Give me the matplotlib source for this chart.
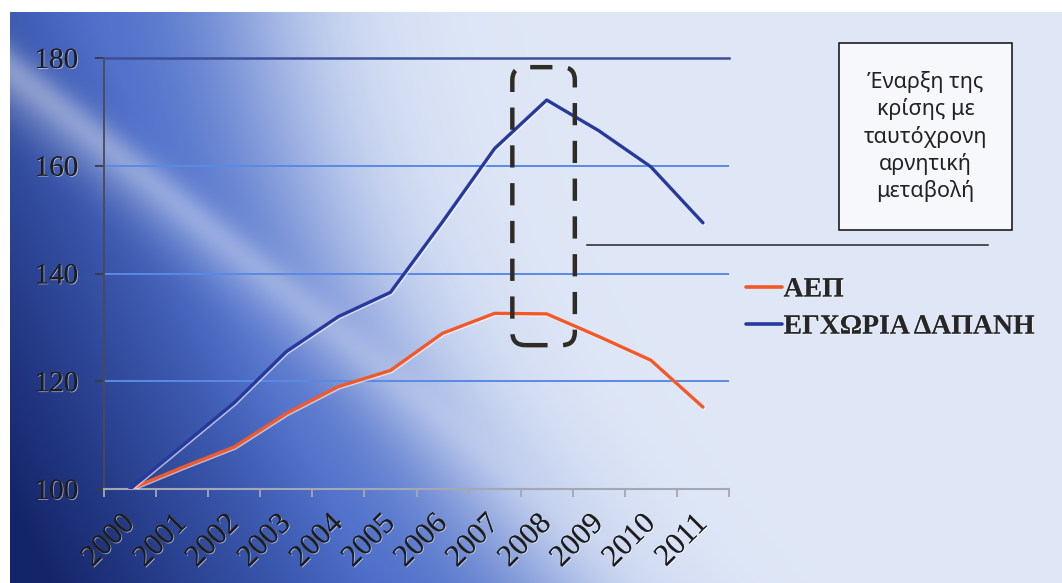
import numpy as np
import matplotlib.pyplot as plt
import matplotlib.patheffects as pe
from matplotlib.patches import FancyBboxPatch, Rectangle
from matplotlib.lines import Line2D

W, H = 1062, 583

years = ['2000', '2001', '2002', '2003', '2004', '2005',
         '2006', '2007', '2008', '2009', '2010', '2011']
aep = [100, 104, 107.8, 114, 119, 122, 128.9, 132.6, 132.5, 128.3, 123.9, 115.2]
dapani = [100, 108, 116, 125.5, 132, 136.5, 149.6, 163.2, 172.2, 166.5, 159.8, 149.4]
yticks = [100, 120, 140, 160, 180]

note = 'Έναρξη της\nκρίσης με\nταυτόχρονη\nαρνητική\nμεταβολή'

c_aep = '#f2592a'
c_dap = '#27399c'

fig = plt.figure(figsize=(W / 100, H / 100), dpi=100, facecolor='white')

# --- slide background: dark navy lower-left fading to pale blue ---
bx0, by0 = 10, 12
px, py = np.meshgrid(np.arange(bx0, W), np.arange(by0, H))
edge = 250 + 0.15 * py + 0.0006 * py ** 2
light = 1 / (1 + np.exp(-(px - edge) / 55))
dark = np.clip(0.9 * (py / H) + 0.8 * (1 - px / 260) - 0.55, 0, 1)
navy = np.array([20, 36, 104]) / 255
mid = np.array([72, 106, 200]) / 255
pale = np.array([224, 232, 247]) / 255
blue = mid * (1 - dark[..., None]) + navy * dark[..., None]
img = blue * (1 - light[..., None]) + pale * light[..., None]
# soft diagonal highlights
for (x0, y0, w, a) in [(0, 60, 18, 0.3), (100, 160, 30, 0.2)]:
    d = ((py - y0) - 0.8 * (px - x0)) / np.sqrt(1 + 0.8 ** 2)
    streak = a * np.exp(-(d / w) ** 2) * (1 - light)
    img = img + (1 - img) * streak[..., None]
img = np.clip(img, 0, 1)

bg = fig.add_axes([bx0 / W, 0, 1 - bx0 / W, 1 - by0 / H])
bg.imshow(img, aspect='auto', interpolation='bilinear')
bg.axis('off')

# --- chart ---
ax = fig.add_axes([104 / W, 94 / H, (729 - 104) / W, (489 - 58) / H])
ax.patch.set_alpha(0)

glow = [pe.SimpleLineShadow(offset=(0.8, -0.8), shadow_color='white', alpha=0.6), pe.Normal()]
x = np.arange(len(years))
l1, = ax.plot(x, aep, color=c_aep, lw=2.4, solid_capstyle='round', zorder=3, path_effects=glow)
l2, = ax.plot(x, dapani, color=c_dap, lw=2.4, solid_capstyle='round', zorder=3, path_effects=glow)

ax.set_xlim(-0.5, len(years) - 0.5)
ax.set_ylim(100, 180)
ax.set_yticks(yticks)
ax.set_xticks(x)
ax.set_xticklabels(years)
ax.set_xticks(np.arange(-0.5, len(years)), minor=True)

ax.grid(axis='y', color='#5a8ae4', lw=1.4)
ax.set_axisbelow(True)

ax.spines['right'].set_visible(False)
ax.spines['top'].set_color('#3c4f98')
ax.spines['top'].set_linewidth(1.8)
ax.spines['left'].set_color('#4a4a55')
ax.spines['left'].set_linewidth(1.3)
ax.spines['bottom'].set_color('#a4a8b4')
ax.spines['bottom'].set_linewidth(1.5)

ax.tick_params(axis='y', length=6.5, width=1.3, color='#3a3a44', pad=12,
               labelsize=21, labelcolor='#1c1c1c', labelfontfamily='Liberation Serif')
ax.tick_params(axis='x', which='major', length=0, pad=22, labelrotation=45,
               labelsize=22, labelcolor='#1c1c1c', labelfontfamily='Liberation Serif')
ax.tick_params(axis='x', which='minor', length=6, width=1.3, color='#a4a8b4')

# light highlight behind the dark text
emboss = [pe.Stroke(linewidth=0), pe.SimplePatchShadow(offset=(0.6, -0.6), shadow_rgbFace='white', alpha=0.55),
          pe.Normal()]
for lab in ax.get_yticklabels():
    lab.set_path_effects(emboss)
for lab in ax.get_xticklabels():
    lab.set_ha('right')
    lab.set_va('center')
    lab.set_rotation_mode('anchor')
    lab.set_path_effects(emboss)

# dashed frame around the 2007-2008 turning point
frame = FancyBboxPatch((7.34, 126.7), 8.54 - 7.34, 178.3 - 126.7,
                       boxstyle='round,pad=0,rounding_size=0.25',
                       mutation_aspect=9.6, fill=False,
                       ec='#2f2b25', lw=3.2, ls=(0, (5, 3.5)), zorder=4)
ax.add_patch(frame)

# legend
leg = ax.legend([l1, l2], ['ΑΕΠ', 'ΕΓΧΩΡΙΑ ΔΑΠΑΝΗ'], loc='upper left',
                bbox_to_anchor=(735 / W, 1 - 266 / H), bbox_transform=fig.transFigure,
                frameon=False, handlelength=1.3, handletextpad=0.05,
                labelspacing=0.42, borderaxespad=0,
                prop={'family': 'Liberation Serif', 'size': 20, 'weight': 'bold'})
for t in leg.get_texts():
    t.set_color('#262626')
    t.set_path_effects(emboss)
for h in leg.legend_handles:
    h.set_path_effects([pe.Normal()])
    h.set_linewidth(2.6)

# annotation box and pointer line
fig.add_artist(Rectangle((839 / W, 1 - 230 / H), (1012 - 839) / W, (230 - 43) / H,
                         transform=fig.transFigure, fc='#f6f8fc', ec='#1e1e1e', lw=1.2))
fig.text((839 + 1012) / 2 / W, 1 - 136.5 / H, note, ha='center', va='center',
         fontsize=15.5, family='Noto Sans', color='#222222', linespacing=1.3)
fig.add_artist(Line2D([587 / W, 988 / W], [1 - 245 / H, 1 - 245 / H],
                      transform=fig.transFigure, color='#222222', lw=1.1))

fig.savefig('out.png', dpi=100, facecolor='white')
